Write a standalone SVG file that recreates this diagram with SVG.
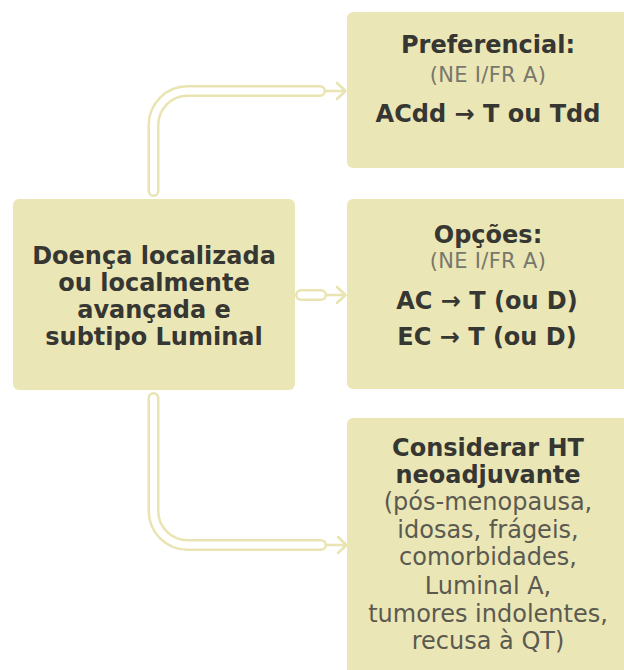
<svg xmlns="http://www.w3.org/2000/svg" width="624" height="670" viewBox="0 0 624 670">
  <style>
    .box { fill: #ebe6b6; }
    .pipe-o { fill: none; stroke: #e9e4b2; stroke-width: 12; stroke-linecap: round; stroke-linejoin: round; }
    .pipe-i { fill: none; stroke: #ffffff; stroke-width: 7; stroke-linecap: round; stroke-linejoin: round; }
    .arr { fill: none; stroke: #e9e4b2; stroke-width: 2.6; stroke-linecap: round; stroke-linejoin: round; }
    text { font-family: "DejaVu Sans", "Liberation Sans", sans-serif; text-anchor: middle; }
    .b { font-weight: bold; font-size: 24px; fill: #363632; }
    .r { font-size: 24px; fill: #5a5a50; }
    .s { font-size: 21px; fill: #77776c; letter-spacing: 0.3px; }
  </style>
  <rect width="624" height="670" fill="#ffffff"/>

  <g id="connectors">
    <path class="pipe-o" d="M153.5 191 V125 A34 34 0 0 1 187.5 91 H320"/>
    <path class="pipe-i" d="M153.5 191 V125 A34 34 0 0 1 187.5 91 H320"/>
    <path class="arr" d="M326 91 H345 M337 83 L345.5 91 L337 99"/>

    <path class="pipe-o" d="M301 295 H321"/>
    <path class="pipe-i" d="M301 295 H321"/>
    <path class="arr" d="M327 295 H345 M337 287 L345.5 295 L337 303"/>

    <path class="pipe-o" d="M153.5 398 V511 A34 34 0 0 0 187.5 545 H321"/>
    <path class="pipe-i" d="M153.5 398 V511 A34 34 0 0 0 187.5 545 H321"/>
    <path class="arr" d="M327 545 H346 M338 537 L346.5 545 L338 553"/>
  </g>

  <g id="node-main">
    <rect class="box" x="13" y="199" width="282" height="191" rx="6"/>
    <text class="b" x="154" y="264">Doença localizada</text>
    <text class="b" x="154" y="291">ou localmente</text>
    <text class="b" x="154" y="318">avançada e</text>
    <text class="b" x="154" y="345">subtipo Luminal</text>
  </g>

  <g id="node-preferencial">
    <rect class="box" x="347" y="12" width="290" height="156" rx="6"/>
    <text class="b" x="488" y="53">Preferencial:</text>
    <text class="s" x="488" y="82">(NE I/FR A)</text>
    <text class="b" x="488" y="121.5">ACdd → T ou Tdd</text>
  </g>

  <g id="node-opcoes">
    <rect class="box" x="347" y="199" width="290" height="190" rx="6"/>
    <text class="b" x="488" y="243">Opções:</text>
    <text class="s" x="488" y="268">(NE I/FR A)</text>
    <text class="b" x="487" y="309">AC → T (ou D)</text>
    <text class="b" x="487" y="345">EC → T (ou D)</text>
  </g>

  <g id="node-ht">
    <rect class="box" x="347" y="418" width="290" height="270" rx="6"/>
    <text class="b" x="488" y="456">Considerar HT</text>
    <text class="b" x="488" y="483">neoadjuvante</text>
    <text class="r" x="488" y="510">(pós-menopausa,</text>
    <text class="r" x="488" y="537.5">idosas, frágeis,</text>
    <text class="r" x="488" y="565">comorbidades,</text>
    <text class="r" x="488" y="594">Luminal A,</text>
    <text class="r" x="488" y="621.5">tumores indolentes,</text>
    <text class="r" x="488" y="649">recusa à QT)</text>
  </g>
</svg>
